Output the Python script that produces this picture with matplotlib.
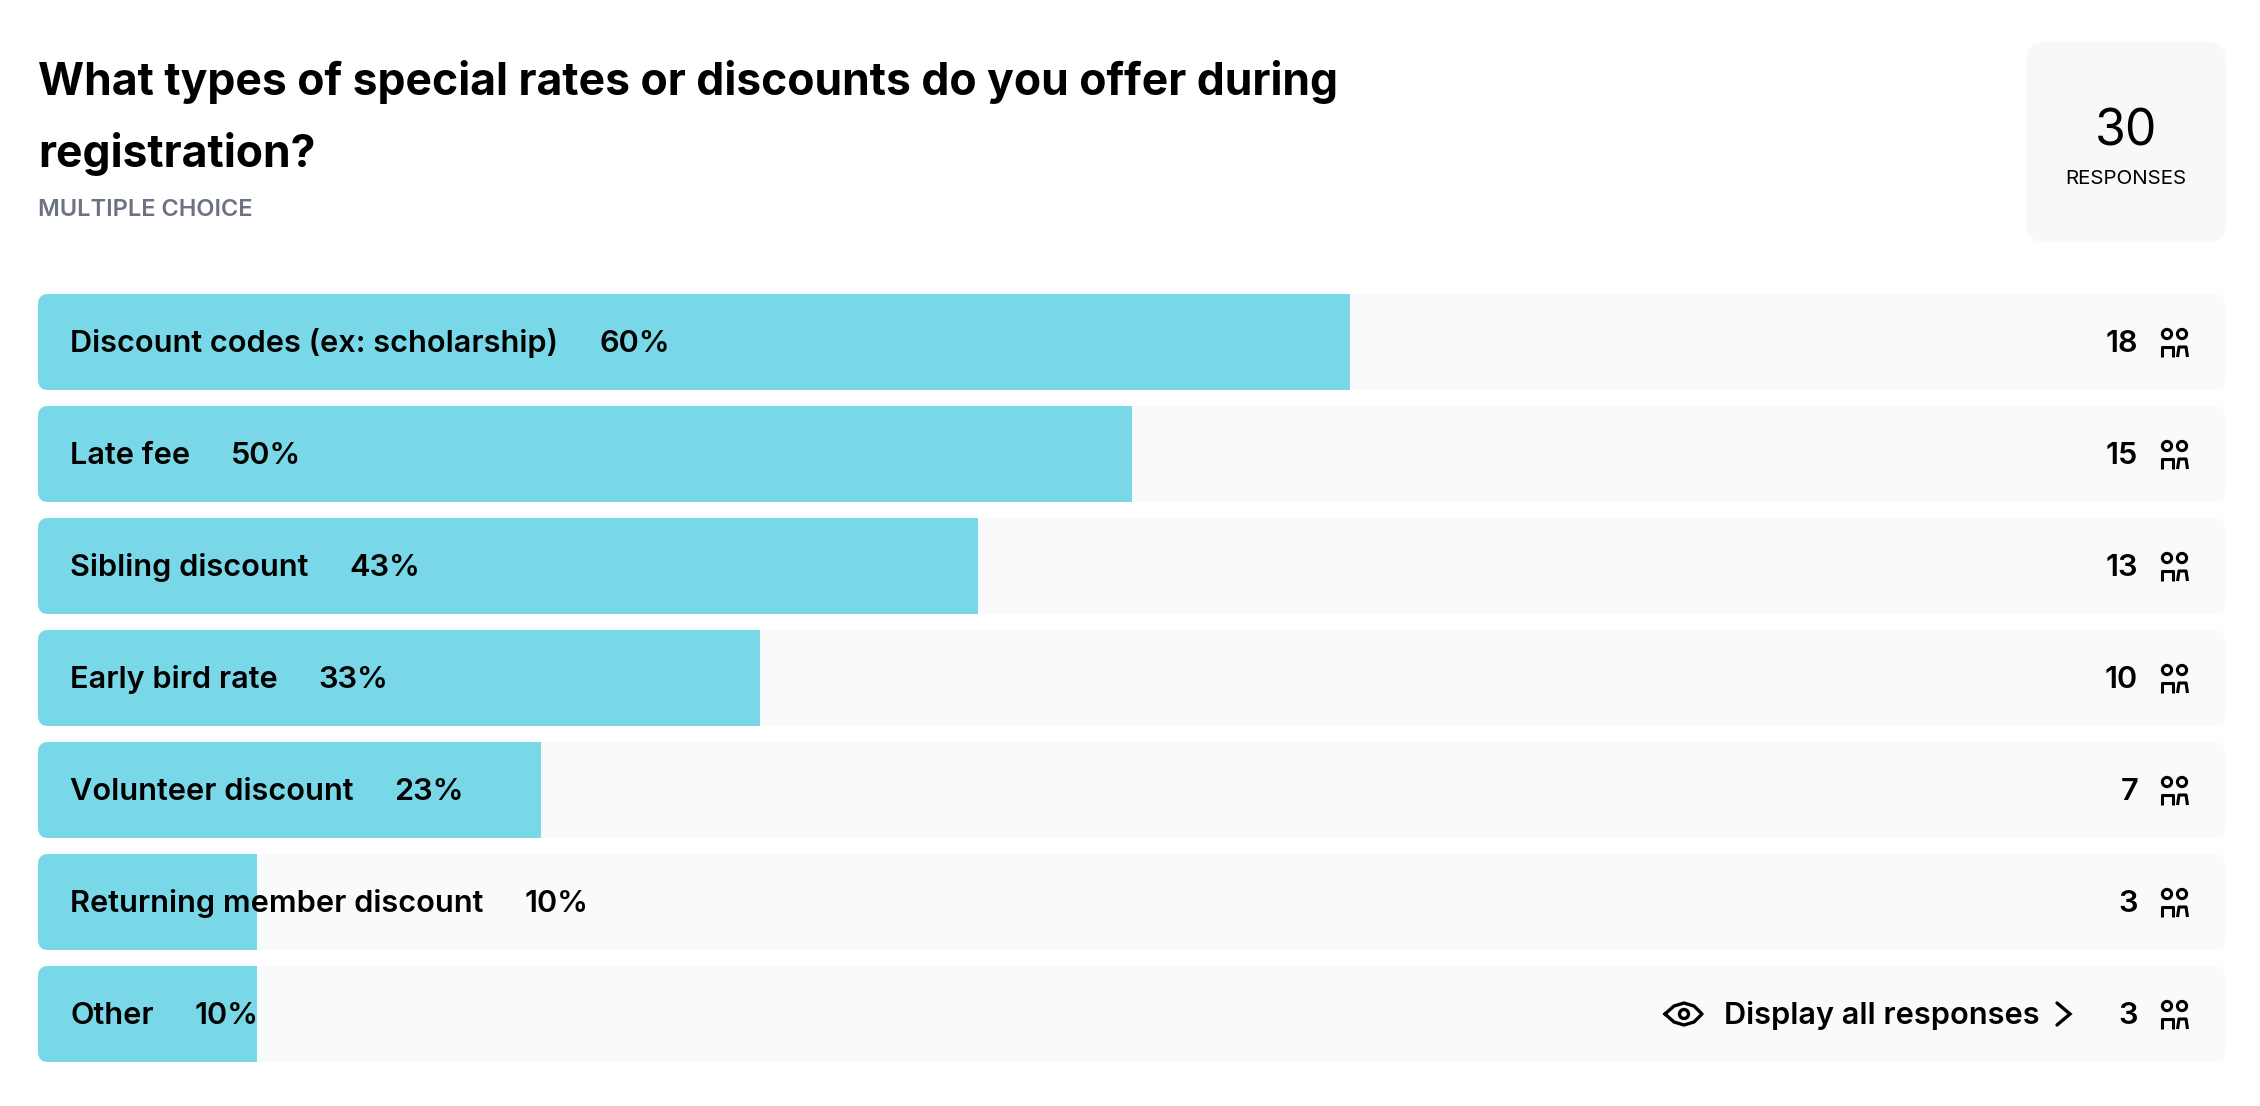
import matplotlib
matplotlib.use('Agg')
import matplotlib.pyplot as plt
from matplotlib.patches import Circle, FancyBboxPatch
from matplotlib.transforms import IdentityTransform

categories = ["Discount codes (ex: scholarship)", "Late fee", "Sibling discount", "Early bird rate",
              "Volunteer discount", "Returning member discount", "Other"]
percents = [60, 50, 43, 33, 23, 10, 10]
counts = [18, 15, 13, 10, 7, 3, 3]
title_lines = ["What types of special rates or discounts do you offer during", "registration?"]
subtitle = "MULTIPLE CHOICE"
total_responses = 30

W, H = 2260, 1106
FONT = 'Inter'
plt.rcParams['font.family'] = [FONT, 'DejaVu Sans']

fig = plt.figure(figsize=(W / 100, H / 100), dpi=100, facecolor='white')

# bars live in their own axes: 0-100 percent across the track
ax = fig.add_axes([38 / W, 1 - 1070 / H, 2187 / W, 784 / H])
ax.set_xlim(0, 100)
ax.set_ylim(6.5, -0.5)
ax.axis('off')
rows = list(range(len(categories)))
tracks = ax.barh(rows, [100] * len(rows), height=96 / 112, color='#f9fafc', linewidth=0)
fills = ax.barh(rows, percents, height=96 / 112, color='#78d8e7', linewidth=0)

# round the track corners by clipping with a rounded box
for track, fill in zip(tracks, fills):
    (x0, y0), (x1, y1) = ax.transData.transform([(0, track.get_y() + track.get_height()),
                                                 (100, track.get_y())])
    clip = FancyBboxPatch((x0, y0), x1 - x0, y1 - y0, boxstyle="round,pad=0,rounding_size=10",
                          transform=IdentityTransform())
    track.set_clip_path(clip)
    fill.set_clip_path(clip)

# everything else is placed in pixels of the picture
ov = fig.add_axes([0, 0, 1, 1])
ov.set_xlim(0, W)
ov.set_ylim(H, 0)
ov.axis('off')
ov.patch.set_alpha(0)


def people_icon(y):
    lw = 2.2
    for cx in (2167, 2182):
        ov.add_patch(Circle((cx, y - 8), 4.6, fill=False, ec='black', lw=lw))
    ov.plot([2162, 2162, 2172.5, 2172.5], [y + 15, y + 5, y + 5, y + 15], color='black', lw=lw,
            solid_joinstyle='round', solid_capstyle='butt')
    ov.plot([2177.5, 2179, 2186, 2187.5], [y + 15, y + 5, y + 5, y + 15], color='black', lw=lw,
            solid_joinstyle='round', solid_capstyle='butt')


ov.text(38, 95, title_lines[0], fontsize=32, fontweight='bold', color='black')
ov.text(38, 167, title_lines[1], fontsize=32, fontweight='bold', color='black')
ov.text(38, 216, subtitle, fontsize=17, fontweight='semibold', color='#6b7280')

ov.add_patch(FancyBboxPatch((2026, 42), 200, 200, boxstyle="round,pad=0,rounding_size=18",
                            fc='#f7f8fa', ec='none'))
ov.text(2126, 145, str(total_responses), fontsize=36, ha='center', color='black')
ov.text(2126, 184, "RESPONSES", fontsize=14.8, ha='center', color='black')

renderer = fig.canvas.get_renderer()
for i, (cat, pct, n) in enumerate(zip(categories, percents, counts)):
    yc = 342 + 112 * i
    label = ov.text(70, yc + 10, cat, fontsize=22.1, fontweight='semibold', color='black')
    end = label.get_window_extent(renderer).x1
    ov.text(end + 41, yc + 10, f"{pct}%", fontsize=22.1, fontweight='semibold', color='black')
    ov.text(2138, yc + 10, str(n), fontsize=22.1, fontweight='semibold', ha='right', color='black')
    people_icon(yc)

# last row link
yl = 342 + 112 * 6
ov.text(1724, yl + 10, "Display all responses", fontsize=22.1, fontweight='semibold', color='black')
ov.plot([2057, 2070, 2057], [yl - 11, yl, yl + 11], color='black', lw=2.4, solid_capstyle='round',
        solid_joinstyle='miter')
eye_x = [1665, 1674, 1684, 1694, 1702, 1694, 1684, 1674, 1665]
eye_y = [yl, yl - 8, yl - 11, yl - 8, yl, yl + 8, yl + 11, yl + 8, yl]
ov.plot(eye_x, eye_y, color='black', lw=2.4, solid_joinstyle='round')
ov.add_patch(Circle((1684, yl), 4.5, fill=False, ec='black', lw=2.4))

fig.savefig('out.png', dpi=100)
